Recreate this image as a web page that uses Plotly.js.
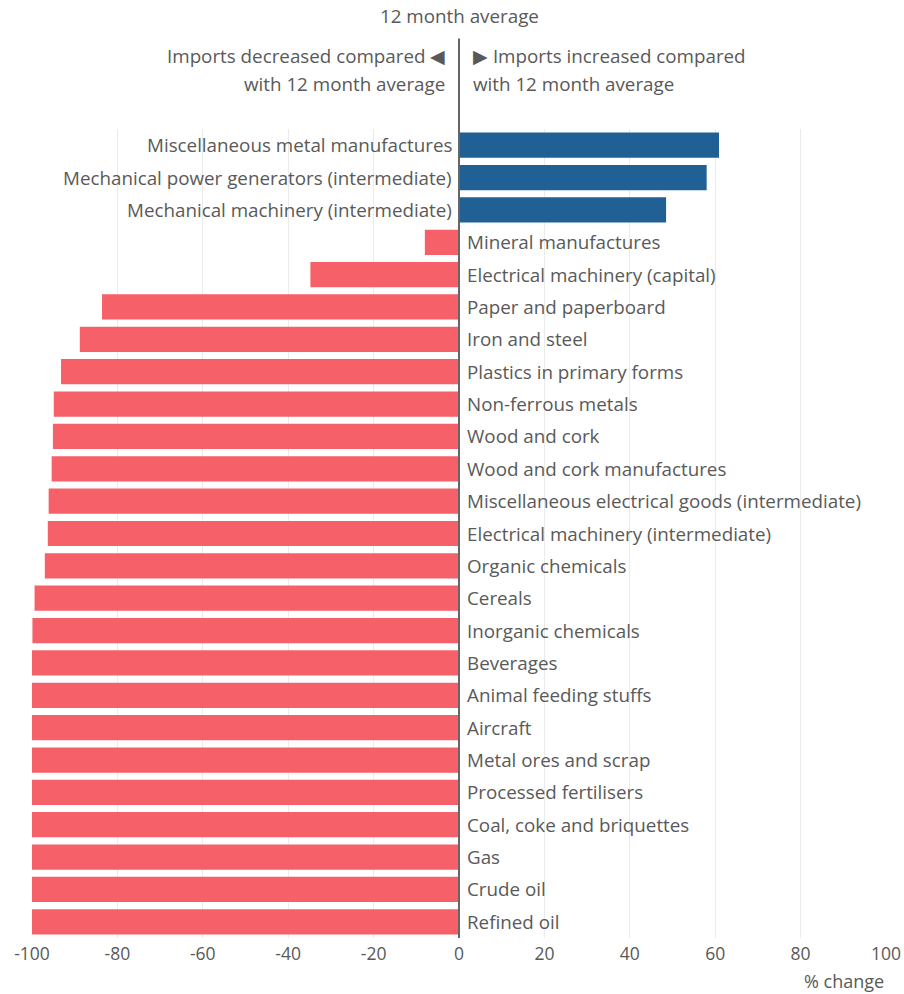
<!DOCTYPE html>
<html>
<head>
<meta charset="utf-8">
<script src="https://cdn.plot.ly/plotly-3.0.1.min.js"></script>
<style>
html,body{margin:0;padding:0;background:#fff;}
#chart{width:904px;height:994px;}
</style>
</head>
<body>
<div id="chart"></div>
<script>
const categories = [
  "Miscellaneous metal manufactures",
  "Mechanical power generators (intermediate)",
  "Mechanical machinery (intermediate)",
  "Mineral manufactures",
  "Electrical machinery (capital)",
  "Paper and paperboard",
  "Iron and steel",
  "Plastics in primary forms",
  "Non-ferrous metals",
  "Wood and cork",
  "Wood and cork manufactures",
  "Miscellaneous electrical goods (intermediate)",
  "Electrical machinery (intermediate)",
  "Organic chemicals",
  "Cereals",
  "Inorganic chemicals",
  "Beverages",
  "Animal feeding stuffs",
  "Aircraft",
  "Metal ores and scrap",
  "Processed fertilisers",
  "Coal, coke and briquettes",
  "Gas",
  "Crude oil",
  "Refined oil"
];
const pctChange = [
  60.9, 58.0, 48.5, -8.0, -34.8, -83.6, -88.8, -93.2, -94.9, -95.1,
  -95.4, -96.1, -96.3, -97.0, -99.4, -99.9, -100, -100, -100, -100,
  -100, -100, -100, -100, -100
];
const xTickVals = [-100, -80, -60, -40, -20, 0, 20, 40, 60, 80, 100];
const xTickText = ["-100", "-80", "-60", "-40", "-20", "0", "20", "40", "60", "80", "100"];
const headerText = "12 month average";
const leftNoteLines = ["Imports decreased compared ◀", "with 12 month average"];
const rightNoteLines = ["▶ Imports increased compared", "with 12 month average"];
const xTitle = "% change";

const BLUE = "#206095";
const RED = "#F66068";
const TXT = "#595959";
const FONT = "Open Sans, sans-serif";

const colors = pctChange.map(v => v >= 0 ? BLUE : RED);

const trace = {
  type: "bar",
  orientation: "h",
  x: pctChange,
  y: categories,
  marker: {color: colors},
  hoverinfo: "x+y"
};

const annotations = categories.map((c, i) => ({
  x: 0, y: c, xref: "x", yref: "y",
  text: c,
  showarrow: false,
  xanchor: pctChange[i] >= 0 ? "right" : "left",
  xshift: pctChange[i] >= 0 ? -5 : 6,
  font: {family: FONT, size: 18.8, color: TXT}
}));

annotations.push({
  x: 0, y: 1, xref: "x", yref: "paper", yanchor: "middle", yshift: 113,
  text: headerText, showarrow: false, xanchor: "center",
  font: {family: FONT, size: 18.8, color: TXT}
});
const noteShifts = [73, 45];
leftNoteLines.forEach((t, k) => annotations.push({
  x: 0, y: 1, xref: "x", yref: "paper", yanchor: "middle", yshift: noteShifts[k],
  text: t, showarrow: false, xanchor: "right", xshift: -12,
  font: {family: FONT, size: 18.8, color: TXT}
}));
rightNoteLines.forEach((t, k) => annotations.push({
  x: 0, y: 1, xref: "x", yref: "paper", yanchor: "middle", yshift: noteShifts[k],
  text: t, showarrow: false, xanchor: "left", xshift: 12,
  font: {family: FONT, size: 18.8, color: TXT}
}));
annotations.push({
  x: 1, y: 0, xref: "paper", yref: "paper", yanchor: "top", xanchor: "right", yshift: -29,
  text: xTitle, showarrow: false,
  font: {family: FONT, size: 18, color: TXT}
});

const layout = {
  width: 904, height: 994,
  margin: {l: 32, r: 18, t: 129, b: 56},
  paper_bgcolor: "#fff",
  plot_bgcolor: "#fff",
  showlegend: false,
  bargap: 0.22,
  xaxis: {
    range: [-100, 100],
    tickvals: xTickVals,
    ticktext: xTickText,
    showgrid: true,
    gridcolor: "#ebebeb",
    gridwidth: 1,
    zeroline: false,
    showline: false,
    ticks: "",
    ticklabelstandoff: 3,
    tickfont: {family: FONT, size: 17.5, color: TXT},
    fixedrange: true
  },
  yaxis: {
    type: "category",
    categoryorder: "array",
    categoryarray: categories,
    autorange: "reversed",
    showticklabels: false,
    showgrid: false,
    zeroline: false,
    ticks: "",
    fixedrange: true
  },
  shapes: [{
    type: "line", xref: "x", yref: "paper",
    x0: 0, x1: 0, y0: 0, y1: 1.112,
    line: {color: "#666666", width: 2}
  }],
  annotations: annotations
};

Plotly.newPlot("chart", [trace], layout, {displayModeBar: false, staticPlot: true});
</script>
</body>
</html>
